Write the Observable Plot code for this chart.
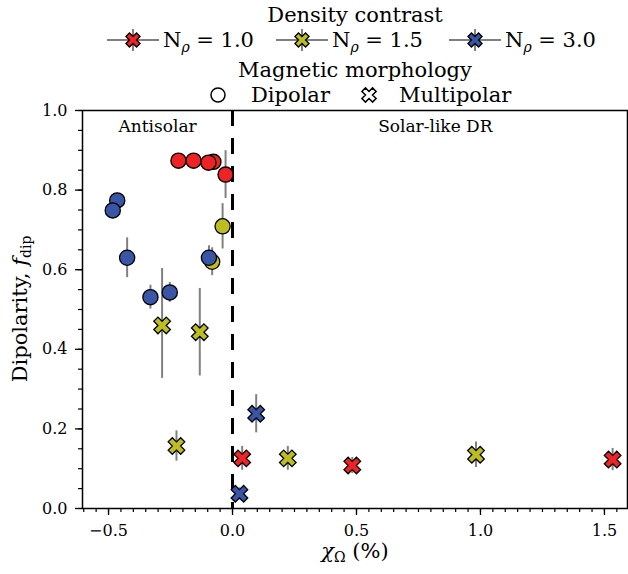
<!DOCTYPE html>
<html><head><meta charset="utf-8">
<script src="https://cdn.jsdelivr.net/npm/d3@7"></script>
<script src="https://cdn.jsdelivr.net/npm/@observablehq/plot@0.6"></script>
<style>body{margin:0;background:#fff} svg{display:block}</style>
</head><body><div id="chart"></div>
<script>
// ---- Data ----
const seriesLabels = ["1.0", "1.5", "3.0"];
const seriesColors = ["#ee2325", "#bcbd22", "#3955a6"];
const morphLabels = ["Dipolar", "Multipolar"];

// N_rho = 1.0
const n10DipX = [-0.218, -0.157, -0.077, -0.097, -0.028];
const n10DipY = [0.874, 0.874, 0.871, 0.869, 0.839];
const n10DipErr = [0.01, 0.01, 0.01, 0.01, 0.06];
const n10MulX = [0.039, 0.483, 1.533];
const n10MulY = [0.126, 0.108, 0.123];
const n10MulErr = [0.03, 0.02, 0.028];

// N_rho = 1.5
const n15DipX = [-0.040, -0.082];
const n15DipY = [0.709, 0.620];
const n15DipErr = [0.057, 0.035];
const n15MulX = [-0.284, -0.132, -0.226, 0.223, 0.982];
const n15MulY = [0.460, 0.443, 0.157, 0.126, 0.135];
const n15MulErrLo = [0.133, 0.11, 0.038, 0.03, 0.032];
const n15MulErrHi = [0.143, 0.11, 0.038, 0.03, 0.032];

// N_rho = 3.0
const n30DipX = [-0.465, -0.483, -0.425, -0.331, -0.253, -0.095];
const n30DipY = [0.774, 0.749, 0.630, 0.531, 0.543, 0.630];
const n30DipErr = [0.01, 0.02, 0.05, 0.03, 0.025, 0.03];
const n30MulX = [0.0955, 0.028];
const n30MulY = [0.238, 0.037];
const n30MulErr = [0.048, 0.015];

const xMajor = [-0.5, 0, 0.5, 1.0, 1.5];
const yMajor = [0, 0.2, 0.4, 0.6, 0.8, 1.0];
const annotX = [-0.302, 0.818];
const annotY = [0.96, 0.96];
const annotText = ["Antisolar", "Solar-like DR"];

// ---- Build rows ----
function rows(s, morph, xs, ys, lo, hi) {
  return xs.map((x, i) => ({s, morph, x, y: ys[i], lo: ys[i] - lo[i], hi: ys[i] + (hi || lo)[i]}));
}
const dip = [
  ...rows(0, "Dipolar", n10DipX, n10DipY, n10DipErr),
  ...rows(1, "Dipolar", n15DipX, n15DipY, n15DipErr),
  ...rows(2, "Dipolar", n30DipX, n30DipY, n30DipErr)
];
const mul = [
  ...rows(0, "Multipolar", n10MulX, n10MulY, n10MulErr),
  ...rows(1, "Multipolar", n15MulX, n15MulY, n15MulErrLo, n15MulErrHi),
  ...rows(2, "Multipolar", n30MulX, n30MulY, n30MulErr)
];
const all = [...dip, ...mul];

const xSymbol = {
  draw(ctx, size) {
    const L = Math.sqrt(size / Math.PI), a = L / 3, c = Math.SQRT1_2;
    const pts = [[L,a],[a,a],[a,L],[-a,L],[-a,a],[-L,a],[-L,-a],[-a,-a],[-a,-L],[a,-L],[a,-a],[L,-a]];
    pts.forEach(([x, y], i) => { const X = (x - y) * c, Y = (x + y) * c; i ? ctx.lineTo(X, Y) : ctx.moveTo(X, Y); });
    ctx.closePath();
  }
};

const color = {domain: [0, 1, 2], range: seriesColors};
const fmt = d3.format(".1f");
const FONT = "DejaVu Serif";

const plot = Plot.plot({
  width: 628, height: 574,
  marginTop: 110, marginBottom: 66, marginLeft: 82, marginRight: 1,
  x: {domain: [-0.605, 1.593]},
  y: {domain: [0, 1]},
  color,
  style: {fontFamily: FONT, fontSize: "16px", color: "black", background: "white"},
  marks: [
    Plot.axisX({ticks: d3.range(-12, 33).map(d => d * 0.05), tickSize: 4, tickFormat: () => "", label: null, strokeWidth: 1.2}),
    Plot.axisX({ticks: xMajor, tickSize: 7, tickPadding: 9, tickFormat: fmt, label: null, strokeWidth: 1.3, fontSize: 16}),
    Plot.axisY({ticks: d3.range(0, 21).map(d => d * 0.05), tickSize: 4, tickFormat: () => "", label: null, strokeWidth: 1.2}),
    Plot.axisY({ticks: yMajor, tickSize: 7, tickPadding: 8, tickFormat: fmt, label: null, strokeWidth: 1.3, fontSize: 16}),
    Plot.ruleX([0], {stroke: "black", strokeWidth: 3, strokeDasharray: "16,12"}),
    Plot.ruleX(all, {x: "x", y1: "lo", y2: "hi", stroke: "#808080", strokeWidth: 2}),
    Plot.dot(dip, {x: "x", y: "y", r: 7.6, fill: d => d.s, stroke: "black", strokeWidth: 1.3, fillOpacity: 1}),
    Plot.dot(mul, {x: "x", y: "y", r: 8.8, symbol: xSymbol, fill: d => d.s, stroke: "black", strokeWidth: 1.3, fillOpacity: 1}),
    Plot.text(annotText, {x: (d, i) => annotX[i], y: (d, i) => annotY[i], text: d => d, fontSize: 17, fill: "black"}),
    Plot.frame({stroke: "black", strokeWidth: 1.5})
  ]
});
document.getElementById("chart").appendChild(plot);

// ---- Axis labels & legend ----
const svg = d3.select(plot);
const xl = svg.append("text").attr("x", 355).attr("y", 558).attr("text-anchor", "middle")
  .attr("font-family", FONT).attr("font-size", 21).attr("fill", "black");
xl.append("tspan").attr("font-style", "italic").text("χ");
xl.append("tspan").attr("font-size", 14).attr("dy", 4).text("Ω");
xl.append("tspan").attr("dy", -4).text(" (%)");

const yl = svg.append("text").attr("transform", "translate(27,309) rotate(-90)").attr("text-anchor", "middle")
  .attr("font-family", FONT).attr("font-size", 21).attr("fill", "black");
yl.append("tspan").text("Dipolarity, ");
yl.append("tspan").attr("font-style", "italic").text("f");
yl.append("tspan").attr("font-size", 14).attr("dy", 4).text("dip");

const lg = svg.append("g").attr("font-family", FONT).attr("fill", "black").attr("text-anchor", "start");
lg.append("text").attr("x", 355).attr("y", 22).attr("text-anchor", "middle").attr("font-size", 21).text("Density contrast");
const hx = [133, 302, 475];
seriesLabels.forEach((lab, i) => {
  const g = lg.append("g").attr("transform", `translate(${hx[i]},40)`);
  g.append("line").attr("x1", -26).attr("x2", 26).attr("stroke", "#808080").attr("stroke-width", 2);
  g.append("line").attr("y1", -11).attr("y2", 11).attr("stroke", "#808080").attr("stroke-width", 2);
  g.append("path").attr("d", d3.symbol(xSymbol, 7.5 * 7.5 * Math.PI)()).attr("fill", seriesColors[i]).attr("stroke", "black").attr("stroke-width", 1.3);
  const t = lg.append("text").attr("x", hx[i] + 30).attr("y", 47).attr("font-size", 21).attr("text-anchor", "start");
  t.append("tspan").text("N");
  t.append("tspan").attr("font-size", 14).attr("font-style", "italic").attr("dy", 5).text("ρ");
  t.append("tspan").attr("dy", -5).text(" = " + lab);
});
lg.append("text").attr("x", 355).attr("y", 77).attr("text-anchor", "middle").attr("font-size", 21).text("Magnetic morphology");
lg.append("circle").attr("cx", 218).attr("cy", 95).attr("r", 7).attr("fill", "white").attr("stroke", "black").attr("stroke-width", 1.5);
lg.append("text").attr("x", 251).attr("y", 102).attr("font-size", 21).attr("text-anchor", "start").text(morphLabels[0]);
lg.append("path").attr("transform", "translate(369,95)").attr("d", d3.symbol(xSymbol, 7.5 * 7.5 * Math.PI)()).attr("fill", "white").attr("stroke", "black").attr("stroke-width", 1.5);
lg.append("text").attr("x", 399).attr("y", 102).attr("font-size", 21).attr("text-anchor", "start").text(morphLabels[1]);
</script></body></html>
